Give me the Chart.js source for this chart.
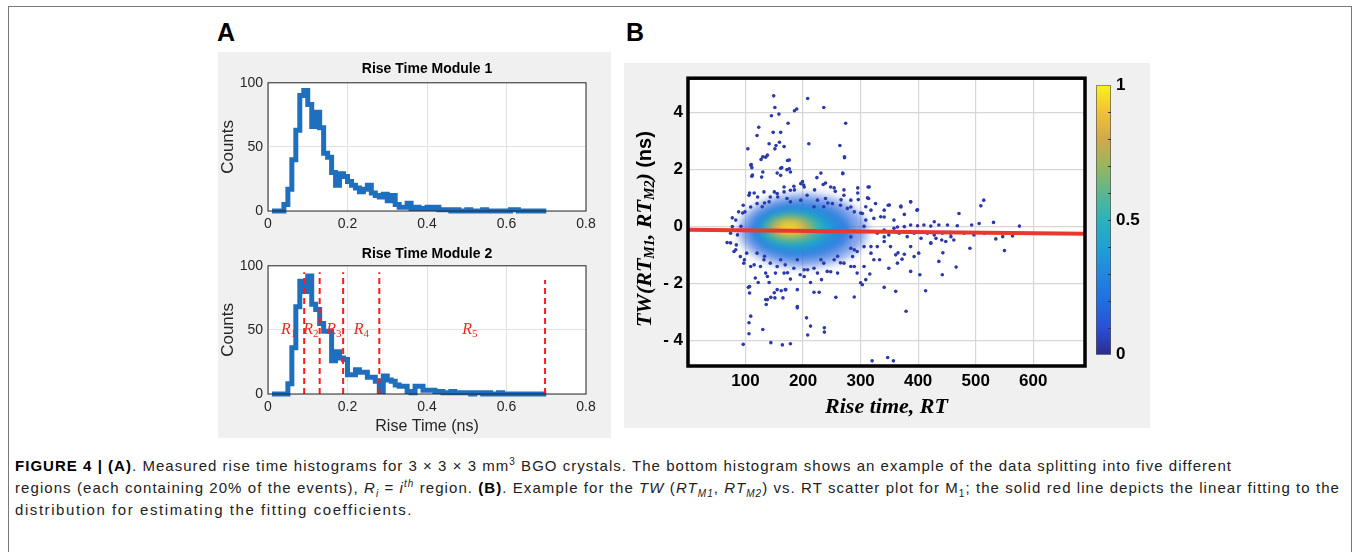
<!DOCTYPE html>
<html>
<head>
<meta charset="utf-8">
<script src="https://cdn.jsdelivr.net/npm/chart.js@4.4.1/dist/chart.umd.min.js"></script>
<style>
  html, body { margin: 0; padding: 0; background: #fff; }
  body { width: 1354px; height: 552px; position: relative; overflow: hidden; font-family: "Liberation Sans", Arial, sans-serif; }
  .frame { position: absolute; left: 8px; top: 6px; width: 1344px; height: 620px; border: 1.5px solid #7a7a7a; box-sizing: border-box; }
  .panel { position: absolute; background: #f0f0f0; }
  .tag { position: absolute; font: bold 25px "Liberation Sans", Arial, sans-serif; line-height: 25px; color: #000; }
  canvas { position: absolute; }
  .cap { position: absolute; left: 15px; white-space: nowrap; font-size: 15px; line-height: 18px; color: #222; }
  .cap sub, .cap sup { font-size: 10px; line-height: 0; }
</style>
</head>
<body>
<div class="frame"></div>
<div class="tag" style="left:217px;top:20px;">A</div>
<div class="tag" style="left:626px;top:20px;">B</div>
<div class="panel" style="left:218px;top:52px;width:393px;height:386px;"></div>
<div class="panel" style="left:624px;top:63px;width:526px;height:365px;"></div>

<canvas id="hist1" width="394" height="181" style="left:218px;top:52px;"></canvas>
<canvas id="hist2" width="394" height="201" style="left:218px;top:237px;"></canvas>
<canvas id="scatter" width="526" height="365" style="left:624px;top:63px;"></canvas>
<canvas id="cbar" width="60" height="300" style="left:1090px;top:70px;"></canvas>

<div class="cap" id="cap1" style="top:457px;"><b style="color:#000">FIGURE 4 | (A)</b>. Measured rise time histograms for 3 × 3 × 3 mm<sup>3</sup> BGO crystals. The bottom histogram shows an example of the data splitting into five different</div>
<div class="cap" id="cap2" style="top:479px;">regions (each containing 20% of the events), <i>R<sub>i</sub></i> = <i>i<sup>th</sup></i> region. <b style="color:#000">(B)</b>. Example for the <i>TW</i> (<i>RT<sub>M1</sub></i>, <i>RT<sub>M2</sub></i>) vs. RT scatter plot for M<sub>1</sub>; the solid red line depicts the linear fitting to the</div>
<div class="cap" id="cap3" style="top:501px;">distribution for estimating the fitting coefficients.</div>

<script>
// Histogram bins (left edges, plus the closing edge at 0.70)
const binEdges = [0.01,0.02,0.03,0.04,0.05,0.06,0.07,0.08,0.09,0.10,
    0.11,0.12,0.13,0.14,0.15,0.16,0.17,0.18,0.19,0.20,
    0.21,0.22,0.23,0.24,0.25,0.26,0.27,0.28,0.29,0.30,
    0.31,0.32,0.33,0.34,0.35,0.36,0.37,0.38,0.39,0.40,
    0.41,0.42,0.43,0.44,0.45,0.46,0.47,0.48,0.49,0.50,
    0.51,0.52,0.53,0.54,0.55,0.56,0.57,0.58,0.59,0.60,
    0.61,0.62,0.63,0.64,0.65,0.66,0.67,0.68,0.69,0.70];

// Counts per bin, Module 1
const countsModule1 = [0,0,0,5,17,40,63,90,94,83,
    66,77,65,45,42,30,20,29,27,23,
    20,18,15,17,20,14,12,11,13,8,
    12,5,3,3,6,2,3,2,2,3,
    2,3,1,1,1,0,1,0,0,1,
    0,0,0,1,0,0,0,0,0,0,
    1,1,0,0,0,0,0,0,0];

// Counts per bin, Module 2
const countsModule2 = [0,0,0,0,8,36,68,88,80,92,
    70,66,55,49,49,26,33,28,27,15,
    15,19,17,17,13,13,10,2,14,11,
    10,7,6,6,2,1,6,6,3,3,
    3,2,2,1,1,2,1,1,1,1,
    0,1,1,0,1,0,0,1,0,0,
    0,0,0,0,0,0,0,0,0];

// Region boundaries (dashed red lines) in Module 2
const regionBounds = [0.091, 0.130, 0.189, 0.280, 0.697];
const regionTops = [95, 95, 95, 95, 89];
const regionNames = ['1', '2', '3', '4', '5'];
const regionLabelX = [0.052, 0.108, 0.166, 0.235, 0.508];
const regionLabelY = 50;

// Scatter: [rise time, TW] pairs
const scatterTop = [[149,4.58],[151,4.17],[145,3.88],[158,3.94],[148,3.30],[161,3.30],[123,3.48],[120,3.19],[189,4.12],[185,4.06],
    [208,4.49],[236,4.17],[274,3.62],[174,3.62],[104,2.72],[127,2.35],[135,2.43],[151,2.72],[153,2.84],[167,2.80],
    [159,2.95],[141,2.90],[210,2.90],[264,2.84],[272,2.41],[110,2.17],[111,2.06],[111,1.76],[130,1.91],[128,1.73],
    [173,2.31],[176,2.02],[163,2.06],[172,1.99],[178,1.91],[161,1.79],[155,1.87],[269,1.85],[224,1.71]];
const scatterRight = [[295,1.35],[313,1.38],[314,0.98],[296,0.94],[387,0.86],[370,0.71],[348,0.74],[376,0.42],[398,0.57],[514,0.92],
    [509,0.72],[471,0.45],[506,0.10],[531,0.14],[576,0.01],[493,0.05],[468,0.02],[451,0.05],[436,0.05],[422,0.01],
    [410,0.05],[399,0.02],[387,0.05],[376,-0.01],[326,0.80],[341,0.57],[335,0.34],[358,0.22],[535,-0.44],[550,-0.85],
    [564,-0.34],[490,-0.77],[441,-0.48],[442,-1.70],[436,-1.23],[466,-1.43],[403,-1.70],[413,-2.26],[387,-1.58],[379,-2.98],
    [361,-2.28],[341,-2.14],[349,-1.47],[372,-1.15],[376,-0.98],[361,-1.00],[364,-1.29],[401,-0.94],[393,-1.06],[422,-0.59],
    [431,-0.42],[448,-0.53],[456,-0.24],[329,-0.24],[341,-0.13],[349,-0.30],[358,-0.07],[367,-0.24],[381,-0.36],[393,-0.24],
    [405,-0.42],[416,-0.24],[428,-0.30],[442,-0.24],[457,-0.36],[462,-0.48],[480,-0.24],[497,-0.30],[515,-0.24],[547,-0.36]];
const scatterBottom = [[96,-4.14],[106,-3.77],[109,-3.15],[106,-3.38],[130,-3.62],[144,-4.08],[164,-4.16],[178,-4.12],[208,-3.81],[213,-3.50],
    [206,-3.21],[237,-3.56],[237,-3.71],[190,-2.86],[136,-2.74],[135,-2.57],[144,-2.49],[151,-2.51],[165,-2.51],[155,-2.22],
    [162,-2.26],[169,-2.22],[190,-2.22],[219,-2.31],[228,-2.31],[257,-2.49],[289,-2.48],[105,-2.14],[107,-2.34],[122,-1.97],
    [141,-1.97],[117,-1.81],[178,-1.85],[195,-1.70],[213,-1.97],[232,-1.87],[260,-1.64],[303,-2.05],[309,-1.87],[316,-1.67],
    [320,-4.72],[347,-4.60],[357,-4.72],[107,-2.11],[138,-2.57],[150,-2.33],[170,-2.22],[190,-2.81],[300,-1.98]];
const scatterCloud = [[68,-0.57],[74,-0.24],[80,-0.88],[77,-0.01],[83,0.22],[88,0.51],[96,0.74],[99,0.51],[84,-0.65],[91,-1.06],
    [97,-1.29],[102,-0.94],[106,1.09],[115,1.17],[196,1.50],[202,1.38],[184,1.41],[178,1.27],[235,1.47],[248,1.38],
    [256,1.23],[271,1.09],[283,0.92],[132,1.21],[143,1.03],[155,1.15],[167,1.21],[172,0.98],[196,0.92],[207,1.09],
    [225,0.92],[239,0.98],[251,0.80],[265,0.74],[277,0.63],[120,0.80],[129,0.69],[141,0.86],[178,0.86],[219,0.69],
    [236,0.69],[289,0.51],[303,0.45],[318,0.57],[309,0.69],[323,0.28],[309,0.22],[120,-0.94],[132,-1.17],[143,-1.29],
    [155,-1.41],[169,-1.35],[184,-1.47],[202,-1.52],[219,-1.47],[236,-1.29],[254,-1.17],[271,-1.29],[286,-1.06],[294,-0.88],
    [306,-0.71],[318,-0.94],[329,-0.71],[341,-0.53],[352,-0.71],[283,-0.77],[126,-1.41],[115,-1.35],[135,-1.64],[152,-1.64],
    [167,-1.64],[202,-1.76],[225,-1.64],[242,-1.58],[283,-1.41],[294,-1.64],[306,-1.41],[323,-1.17],[109,2.15],[112,1.80],
    [130,2.44],[138,2.50],[161,2.04],[176,2.33],[199,1.57],[201,1.45],[239,1.52],[254,1.35],[271,1.28],[295,1.17],
    [315,1.38],[312,1.00],[350,0.75],[370,0.68],[387,0.86],[399,0.58],[428,0.16],[107,1.17],[121,1.03],[95,0.47],
    [77,0.30],[74,-0.58],[83,-0.82],[98,-1.17],[109,-1.41],[138,-1.76],[173,-1.63],[208,-1.52],[248,-1.59],[265,-1.28],
    [289,-1.41],[333,-1.17],[365,-0.93],[387,-0.71],[422,-0.58],[443,-0.93],[272,2.44],[269,1.87],[231,1.87],[150,1.21],
    [167,1.38],[185,1.28],[220,1.28],[156,1.03],[341,0.33],[364,-0.02],[318,-0.71],[341,-0.37],[289,-0.82],[260,-1.05],
    [231,-1.17],[190,-1.17],[161,-1.17],[133,-1.05],[283,0.68],[300,0.47],[306,0.00],[283,-0.37],[266,0.93],[243,0.82],
    [133,0.82],[109,0.68],[92,0.00],[86,-0.30]];

// Density core of the scatter (nested levels, low to high)
const densityLevel = [0.14, 0.24, 0.36, 0.5, 0.66, 0.82, 0.95];
const densityAlpha = [0.55, 0.8, 1, 1, 1, 1, 1];
const densityCenterRT = [200, 195, 190, 185, 180, 178, 177];
const densityCenterTW = [-0.15, -0.14, -0.12, -0.10, -0.07, -0.05, -0.04];
const densityHalfRT = [112, 90, 70, 56, 43, 32, 20];
const densityHalfTW = [1.3, 1.0, 0.75, 0.55, 0.4, 0.28, 0.18];

// Linear fit end points
const fitRT = [0, 690];
const fitTW = [-0.12, -0.26];

const rtTicks = [100, 200, 300, 400, 500, 600];
const twTicks = [-4, -2, 0, 2, 4];
const colorRange = [0, 1];
const parulaStops = ['#2e2a8c', '#2a4fd6', '#1f6fe0', '#2186de', '#1fa0d6', '#2cb2bb', '#5ab78f', '#98b660', '#d2a94a', '#f2c03a', '#f8f21a'];

const SANS = '"Liberation Sans", Arial, sans-serif';
const SERIF = '"Liberation Serif", "Times New Roman", serif';

function hexToRgb(h) {
    return [parseInt(h.slice(1, 3), 16), parseInt(h.slice(3, 5), 16), parseInt(h.slice(5, 7), 16)];
}

function parulaColor(t, alpha) {
    const n = parulaStops.length - 1;
    const p = Math.max(0, Math.min(1, t)) * n;
    const i = Math.min(Math.floor(p), n - 1);
    const f = p - i;
    const a = hexToRgb(parulaStops[i]), b = hexToRgb(parulaStops[i + 1]);
    const c = a.map((v, k) => Math.round(v + (b[k] - v) * f));
    return `rgba(${c[0]},${c[1]},${c[2]},${alpha})`;
}

// white plot area + box around it
const plotBox = {
    id: 'plotBox',
    beforeDraw(chart, args, opts) {
        const a = chart.chartArea, ctx = chart.ctx;
        ctx.save();
        ctx.fillStyle = '#fff';
        ctx.fillRect(a.left, a.top, a.width, a.height);
        ctx.restore();
    },
    afterDraw(chart, args, opts) {
        const a = chart.chartArea, ctx = chart.ctx;
        ctx.save();
        ctx.strokeStyle = opts.color;
        ctx.lineWidth = opts.width;
        ctx.strokeRect(a.left, a.top, a.width, a.height);
        ctx.restore();
    }
};

const regionLabels = {
    id: 'regionLabels',
    afterDatasetsDraw(chart) {
        const ctx = chart.ctx, xs = chart.scales.x, ys = chart.scales.y;
        ctx.save();
        ctx.fillStyle = '#ff2020';
        ctx.textBaseline = 'middle';
        regionNames.forEach((n, i) => {
            const x = xs.getPixelForValue(regionLabelX[i]);
            const y = ys.getPixelForValue(regionLabelY);
            ctx.font = `italic 16px ${SERIF}`;
            const w = ctx.measureText('R').width;
            ctx.font = `11px ${SERIF}`;
            const sw = ctx.measureText(n).width;
            const x0 = x - (w + sw) / 2;
            ctx.font = `italic 16px ${SERIF}`;
            ctx.fillText('R', x0, y);
            ctx.font = `11px ${SERIF}`;
            ctx.fillText(n, x0 + w, y + 4);
        });
        ctx.restore();
    }
};

function makeHist(id, counts, title, titlePad, xHeight, withRegions) {
    const histData = binEdges.map((e, i) => ({x: e, y: counts[Math.min(i, counts.length - 1)]}));
    const datasets = [];
    if (withRegions) {
        regionBounds.forEach((b, i) => {
            datasets.push({
                type: 'line',
                data: [{x: b, y: 0}, {x: b, y: regionTops[i]}],
                borderColor: '#ff1a1a',
                borderWidth: 2,
                borderDash: [6, 4],
                pointRadius: 0,
                order: 0
            });
        });
    }
    datasets.push({
        type: 'line',
        data: histData,
        stepped: 'before',
        borderColor: '#1f6fbf',
        borderWidth: 5,
        pointRadius: 0,
        clip: 6,
        order: 1
    });

    const plugins = [plotBox];
    if (withRegions) plugins.push(regionLabels);

    return new Chart(document.getElementById(id), {
        type: 'line',
        data: {datasets},
        plugins,
        options: {
            responsive: false,
            animation: false,
            layout: {padding: {left: 0, right: 26, top: 0, bottom: 0}},
            plugins: {
                legend: {display: false},
                tooltip: {enabled: false},
                plotBox: {color: '#262626', width: 1},
                title: {
                    display: true,
                    text: title,
                    fullSize: false,
                    color: '#000',
                    font: {family: SANS, size: 14, weight: 'bold'},
                    padding: titlePad
                }
            },
            scales: {
                x: {
                    type: 'linear',
                    min: 0,
                    max: 0.8,
                    ticks: {stepSize: 0.2, color: '#262626', font: {family: SANS, size: 14}, padding: 5, maxRotation: 0},
                    grid: {color: '#e2e2e2', drawTicks: false},
                    border: {display: false},
                    title: {
                        display: withRegions,
                        text: 'Rise Time (ns)',
                        color: '#262626',
                        font: {family: SANS, size: 16},
                        padding: {top: 0, bottom: 2}
                    },
                    afterFit: s => { s.height = xHeight; }
                },
                y: {
                    min: 0,
                    max: 100,
                    ticks: {stepSize: 50, color: '#262626', font: {family: SANS, size: 14}, padding: 5},
                    grid: {color: '#e2e2e2', drawTicks: false},
                    border: {display: false},
                    title: {
                        display: true,
                        text: 'Counts',
                        color: '#262626',
                        font: {family: SANS, size: 17},
                        padding: {top: 0, bottom: 0}
                    },
                    afterFit: s => { s.width = 50; }
                }
            }
        }
    });
}

makeHist('hist1', countsModule1, 'Rise Time Module 1', {top: 9, bottom: 5}, 22, false);
makeHist('hist2', countsModule2, 'Rise Time Module 2', {top: 9, bottom: 3}, 44, true);

// Scatter plot (panel B)
const densityCloud = {
    id: 'densityCloud',
    beforeDatasetsDraw(chart) {
        const ctx = chart.ctx, a = chart.chartArea, xs = chart.scales.x, ys = chart.scales.y;
        ctx.save();
        ctx.beginPath();
        ctx.rect(a.left, a.top, a.width, a.height);
        ctx.clip();
        ctx.filter = 'blur(4px)';
        densityLevel.forEach((lv, i) => {
            const cx = xs.getPixelForValue(densityCenterRT[i]);
            const cy = ys.getPixelForValue(densityCenterTW[i]);
            const rx = Math.abs(xs.getPixelForValue(densityCenterRT[i] + densityHalfRT[i]) - cx);
            const ry = Math.abs(ys.getPixelForValue(densityCenterTW[i] + densityHalfTW[i]) - cy);
            ctx.beginPath();
            ctx.ellipse(cx, cy, rx, ry, 0, 0, Math.PI * 2);
            ctx.fillStyle = parulaColor(lv, densityAlpha[i]);
            ctx.fill();
        });
        ctx.restore();
    }
};

const yRichTitle = {
    id: 'yRichTitle',
    afterDraw(chart) {
        const ctx = chart.ctx, ys = chart.scales.y, a = chart.chartArea;
        const runs = [
            ['TW(RT', `italic bold 22px ${SERIF}`, 0],
            ['M1', `italic bold 14px ${SERIF}`, 5],
            [', RT', `italic bold 22px ${SERIF}`, 0],
            ['M2', `italic bold 14px ${SERIF}`, 5],
            [') ', `italic bold 22px ${SERIF}`, 0],
            ['(ns)', `bold 20px ${SANS}`, 0]
        ];
        ctx.save();
        let total = 0;
        runs.forEach(r => { ctx.font = r[1]; r.push(ctx.measureText(r[0]).width); total += r[3]; });
        ctx.translate(ys.left + 21, (a.top + a.bottom) / 2 + 7);
        ctx.rotate(-Math.PI / 2);
        ctx.fillStyle = '#000';
        ctx.textBaseline = 'middle';
        let x = -total / 2;
        runs.forEach(r => {
            ctx.font = r[1];
            ctx.fillText(r[0], x, r[2]);
            x += r[3];
        });
        ctx.restore();
    }
};

const scatterPoints = [].concat(scatterTop, scatterRight, scatterBottom, scatterCloud).map(p => ({x: p[0], y: p[1]}));

new Chart(document.getElementById('scatter'), {
    type: 'scatter',
    data: {
        datasets: [
            {
                type: 'line',
                data: fitRT.map((v, i) => ({x: v, y: fitTW[i]})),
                borderColor: '#e8392f',
                borderWidth: 4,
                pointRadius: 0,
                order: 0
            },
            {
                data: scatterPoints,
                pointRadius: 1.8,
                pointBackgroundColor: '#2b3aa8',
                pointBorderWidth: 0,
                order: 1
            }
        ]
    },
    plugins: [plotBox, densityCloud, yRichTitle],
    options: {
        responsive: false,
        animation: false,
        layout: {padding: {left: 0, right: 65, top: 14, bottom: 0}},
        plugins: {
            legend: {display: false},
            tooltip: {enabled: false},
            plotBox: {color: '#000', width: 3.5}
        },
        scales: {
            x: {
                type: 'linear',
                min: 0,
                max: 690,
                afterBuildTicks: s => { s.ticks = rtTicks.map(v => ({value: v})); },
                ticks: {color: '#000', font: {family: SANS, size: 17, weight: 'bold'}, padding: 5, maxRotation: 0},
                grid: {color: '#d6d6d6', lineWidth: 1.2, drawTicks: false},
                border: {display: false},
                title: {
                    display: true,
                    text: 'Rise time, RT',
                    color: '#000',
                    font: {family: SERIF, size: 22, weight: 'bold', style: 'italic'},
                    padding: {top: 0, bottom: 7}
                },
                afterFit: s => { s.height = 62; }
            },
            y: {
                min: -4.9,
                max: 5.2,
                afterBuildTicks: s => { s.ticks = twTicks.map(v => ({value: v})); },
                ticks: {
                    color: '#000',
                    font: {family: SANS, size: 17, weight: 'bold'},
                    padding: 5,
                    callback: v => v < 0 ? '- ' + Math.abs(v) : String(v)
                },
                grid: {color: '#d6d6d6', lineWidth: 1.2, drawTicks: false},
                border: {display: false},
                afterFit: s => { s.width = 64; }
            }
        }
    }
});

// Colour bar
const cbarTicks = {
    id: 'cbarTicks',
    afterDatasetsDraw(chart) {
        const ctx = chart.ctx, a = chart.chartArea, ys = chart.scales.y;
        ctx.save();
        ctx.strokeStyle = '#333';
        ctx.lineWidth = 1;
        for (let k = 1; k < 10; k++) {
            const y = Math.round(ys.getPixelForValue(k / 10)) + 0.5;
            ctx.beginPath();
            ctx.moveTo(a.right - 3, y);
            ctx.lineTo(a.right, y);
            ctx.stroke();
        }
        ctx.restore();
    }
};

new Chart(document.getElementById('cbar'), {
    type: 'bar',
    data: {
        labels: [''],
        datasets: [{
            data: [colorRange],
            backgroundColor: c => {
                const a = c.chart.chartArea;
                if (!a) return parulaStops[5];
                const g = c.chart.ctx.createLinearGradient(0, a.bottom, 0, a.top);
                parulaStops.forEach((s, i) => g.addColorStop(i / (parulaStops.length - 1), s));
                return g;
            },
            borderColor: '#555',
            borderWidth: 1,
            borderSkipped: false,
            barPercentage: 1,
            categoryPercentage: 1
        }]
    },
    plugins: [cbarTicks],
    options: {
        responsive: false,
        animation: false,
        layout: {padding: {left: 6, right: 0, top: 13, bottom: 14}},
        plugins: {legend: {display: false}, tooltip: {enabled: false}},
        scales: {
            x: {display: false},
            y: {
                position: 'right',
                min: 0,
                max: 1,
                ticks: {
                    stepSize: 0.1,
                    autoSkip: false,
                    color: '#000',
                    font: {family: SANS, size: 17, weight: 'bold'},
                    padding: 5,
                    callback: v => Math.abs(v) < 1e-6 ? '0' : Math.abs(v - 0.5) < 1e-6 ? '0.5' : Math.abs(v - 1) < 1e-6 ? '1' : ''
                },
                grid: {display: false, drawTicks: false},
                border: {display: false},
                afterFit: s => { s.width = 39; }
            }
        }
    }
});

// Caption: stretch each line to the width it has in the figure
const captionWidths = {cap1: 1217, cap2: 1325, cap3: 398};
function fitCaption() {
    Object.keys(captionWidths).forEach(id => {
        const el = document.getElementById(id);
        el.style.letterSpacing = '0px';
        const w = el.getBoundingClientRect().width;
        const n = el.textContent.length;
        el.style.letterSpacing = ((captionWidths[id] - w) / n) + 'px';
    });
}
fitCaption();
</script>
</body>
</html>
